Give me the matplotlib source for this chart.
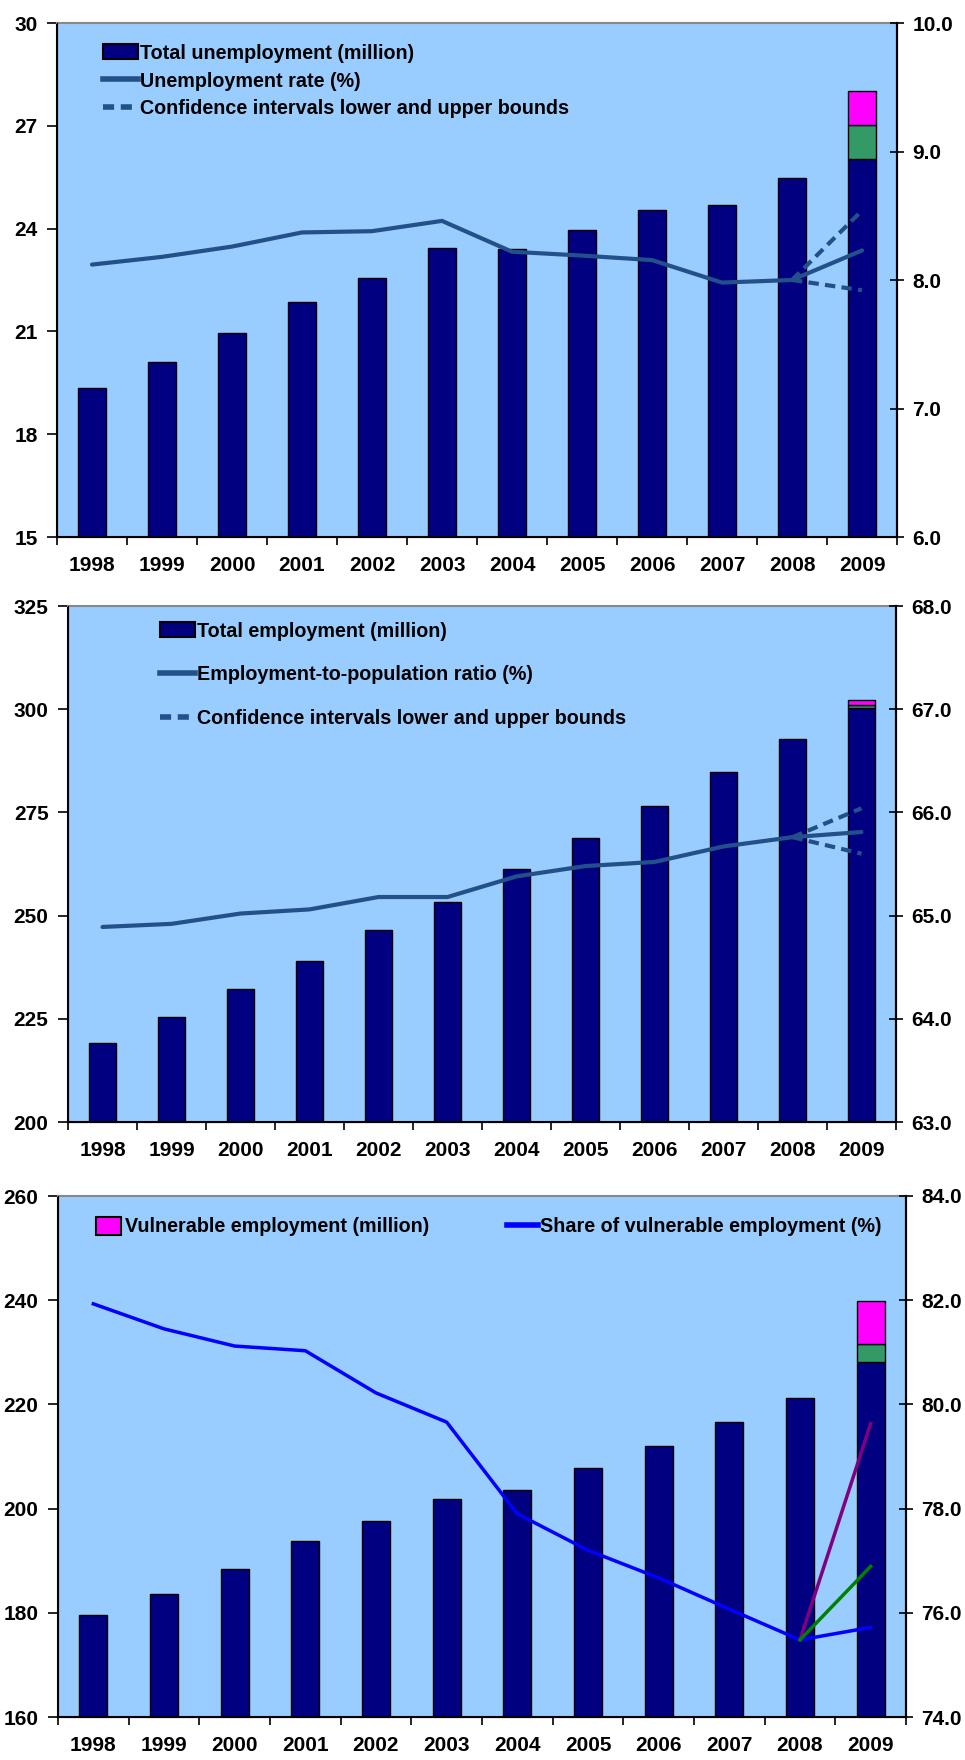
import numpy as np
import matplotlib
matplotlib.use('Agg')
import matplotlib.pyplot as plt
from matplotlib.patches import Patch
from matplotlib.lines import Line2D

plt.rcParams['font.family'] = ['Liberation Sans', 'DejaVu Sans']
plt.rcParams['font.weight'] = 'bold'

years = ['1998', '1999', '2000', '2001', '2002', '2003',
         '2004', '2005', '2006', '2007', '2008', '2009']

# panel 1: unemployment
unemp_total = [19.35, 20.1, 20.95, 21.85, 22.55, 23.42, 23.4, 23.95, 24.55, 24.7, 25.48, 26.03]
unemp_2009_green = 1.0
unemp_2009_magenta = 1.0
unemp_rate = [8.12, 8.18, 8.26, 8.37, 8.38, 8.46, 8.22, 8.19, 8.155, 7.98, 8.0, 8.23]
unemp_rate_upper = [8.0, 8.54]
unemp_rate_lower = [8.0, 7.92]

# panel 2: employment
emp_total = [219.1, 225.5, 232.3, 239.1, 246.4, 253.4, 261.3, 268.9, 276.6, 284.7, 292.9, 300.4]
emp_2009_green = 0.6
emp_2009_magenta = 1.2
emp_ratio = [64.89, 64.92, 65.02, 65.06, 65.18, 65.18, 65.38, 65.48, 65.52, 65.67, 65.76, 65.81]
emp_ratio_upper = [65.76, 66.04]
emp_ratio_lower = [65.76, 65.60]

# panel 3: vulnerable employment
vul_total = [179.6, 183.7, 188.5, 193.8, 197.7, 201.8, 203.6, 207.7, 212.1, 216.7, 221.2, 228.1]
vul_2009_green = 3.5
vul_2009_magenta = 8.3
vul_share = [81.93, 81.45, 81.12, 81.03, 80.22, 79.66, 77.9, 77.2, 76.67, 76.07, 75.48, 75.72]
vul_share_purple = [75.48, 79.63]
vul_share_green = [75.48, 76.89]

BG = '#99CCFF'
NAVY = '#000080'
GREEN = '#339966'
MAGENTA = '#FF00FF'
LINE = '#24508A'
FS = 15
LFS = 14.2

fig = plt.figure(figsize=(9.65, 17.6), dpi=100)


def setup_axes(rect, ylim, yticks, ylim2, yticks2):
    ax = fig.add_axes(rect)
    ax.set_facecolor(BG)
    x = np.arange(len(years))
    ax.set_xlim(-0.5, len(years) - 0.5)
    ax.set_ylim(*ylim)
    ax.set_yticks(yticks)
    ax.set_xticks(x)
    ax.set_xticklabels(years)
    ax.set_xticks(np.arange(-0.5, len(years)), minor=True)
    ax.tick_params(axis='x', which='major', length=0, pad=14, labelsize=FS)
    ax.tick_params(axis='x', which='minor', length=6, width=1.2, direction='out')
    ax.tick_params(axis='y', length=7, width=1.2, direction='out', pad=7, labelsize=FS)
    for s in ['left', 'bottom', 'right']:
        ax.spines[s].set_color('black')
        ax.spines[s].set_linewidth(1.5)
    ax.spines['top'].set_color('#888888')
    ax.spines['top'].set_linewidth(1.5)

    ax2 = ax.twinx()
    ax2.set_ylim(*ylim2)
    ax2.set_yticks(yticks2)
    ax2.yaxis.set_major_formatter(matplotlib.ticker.FormatStrFormatter('%.1f'))
    ax2.tick_params(axis='y', length=10, width=1.2, direction='inout', pad=6, labelsize=FS)
    ax2.spines['right'].set_linewidth(1.5)
    ax2.spines['top'].set_visible(False)
    ax2.patch.set_visible(False)
    return ax, ax2, x


def draw_bars(ax, x, total, green, magenta):
    bw = 0.4
    ax.bar(x, total, width=bw, color=NAVY, edgecolor='black', linewidth=1, zorder=2)
    ax.bar(x[-1], green, bottom=total[-1], width=bw, color=GREEN,
           edgecolor='black', linewidth=1, zorder=2)
    ax.bar(x[-1], magenta, bottom=total[-1] + green, width=bw, color=MAGENTA,
           edgecolor='black', linewidth=1, zorder=2)


# ---- panel 1 ----
ax, ax2, x = setup_axes([57 / 965, 1 - 537 / 1760, 840 / 965, 514 / 1760],
                        (15, 30), [15, 18, 21, 24, 27, 30], (6, 10), [6, 7, 8, 9, 10])
draw_bars(ax, x, unemp_total, unemp_2009_green, unemp_2009_magenta)
ax2.plot(x, unemp_rate, color=LINE, lw=3, solid_capstyle='round')
ax2.plot(x[-2:], unemp_rate_upper, color=LINE, lw=3, ls=(0, (2.5, 1.5)))
ax2.plot(x[-2:], unemp_rate_lower, color=LINE, lw=3, ls=(0, (2.5, 1.5)))
h = [Patch(facecolor=NAVY, edgecolor='black', linewidth=1.5),
     Line2D([], [], color=LINE, lw=4),
     Line2D([], [], color=LINE, lw=4, ls=(0, (2, 1.2)))]
ax.legend(h, ['Total unemployment (million)', 'Unemployment rate (%)',
              'Confidence intervals lower and upper bounds'],
          loc='upper left', bbox_to_anchor=(0.045, 0.975), frameon=False,
          fontsize=LFS, handlelength=1.8, handleheight=0.8, handletextpad=0.1,
          labelspacing=0.45, borderaxespad=0)

# ---- panel 2 ----
ax, ax2, x = setup_axes([68 / 965, 1 - 1122 / 1760, 828 / 965, 516 / 1760],
                        (200, 325), [200, 225, 250, 275, 300, 325], (63, 68), [63, 64, 65, 66, 67, 68])
draw_bars(ax, x, emp_total, emp_2009_green, emp_2009_magenta)
ax2.plot(x, emp_ratio, color=LINE, lw=3, solid_capstyle='round')
ax2.plot(x[-2:], emp_ratio_upper, color=LINE, lw=3, ls=(0, (2.5, 1.5)))
ax2.plot(x[-2:], emp_ratio_lower, color=LINE, lw=3, ls=(0, (2.5, 1.5)))
h = [Patch(facecolor=NAVY, edgecolor='black', linewidth=1.5),
     Line2D([], [], color=LINE, lw=4),
     Line2D([], [], color=LINE, lw=4, ls=(0, (2, 1.2)))]
ax.legend(h, ['Total employment (million)', 'Employment-to-population ratio (%)',
              'Confidence intervals lower and upper bounds'],
          loc='upper left', bbox_to_anchor=(0.101, 0.985), frameon=False,
          fontsize=LFS, handlelength=1.8, handleheight=0.8, handletextpad=0.1,
          labelspacing=1.25, borderaxespad=0)

# ---- panel 3 ----
ax, ax2, x = setup_axes([58 / 965, 1 - 1717 / 1760, 848 / 965, 521 / 1760],
                        (160, 260), [160, 180, 200, 220, 240, 260], (74, 84), [74, 76, 78, 80, 82, 84])
draw_bars(ax, x, vul_total, vul_2009_green, vul_2009_magenta)
ax2.plot(x, vul_share, color='#0000FF', lw=2.5)
ax2.plot(x[-2:], vul_share_purple, color='#800080', lw=2.5)
ax2.plot(x[-2:], vul_share_green, color='#008000', lw=2.5)
ax.legend([Patch(facecolor=MAGENTA, edgecolor='black', linewidth=1.5)],
          ['Vulnerable employment (million)'],
          loc='upper left', bbox_to_anchor=(0.035, 0.975), frameon=False,
          fontsize=LFS, handlelength=1.3, handleheight=1.0, handletextpad=0.2, borderaxespad=0)
ax2.legend([Line2D([], [], color='#0000FF', lw=4)], ['Share of vulnerable employment (%)'],
           loc='upper left', bbox_to_anchor=(0.52, 0.975), frameon=False,
           fontsize=LFS, handlelength=1.6, handletextpad=0.1, borderaxespad=0)

fig.savefig('out.png', dpi=100)
